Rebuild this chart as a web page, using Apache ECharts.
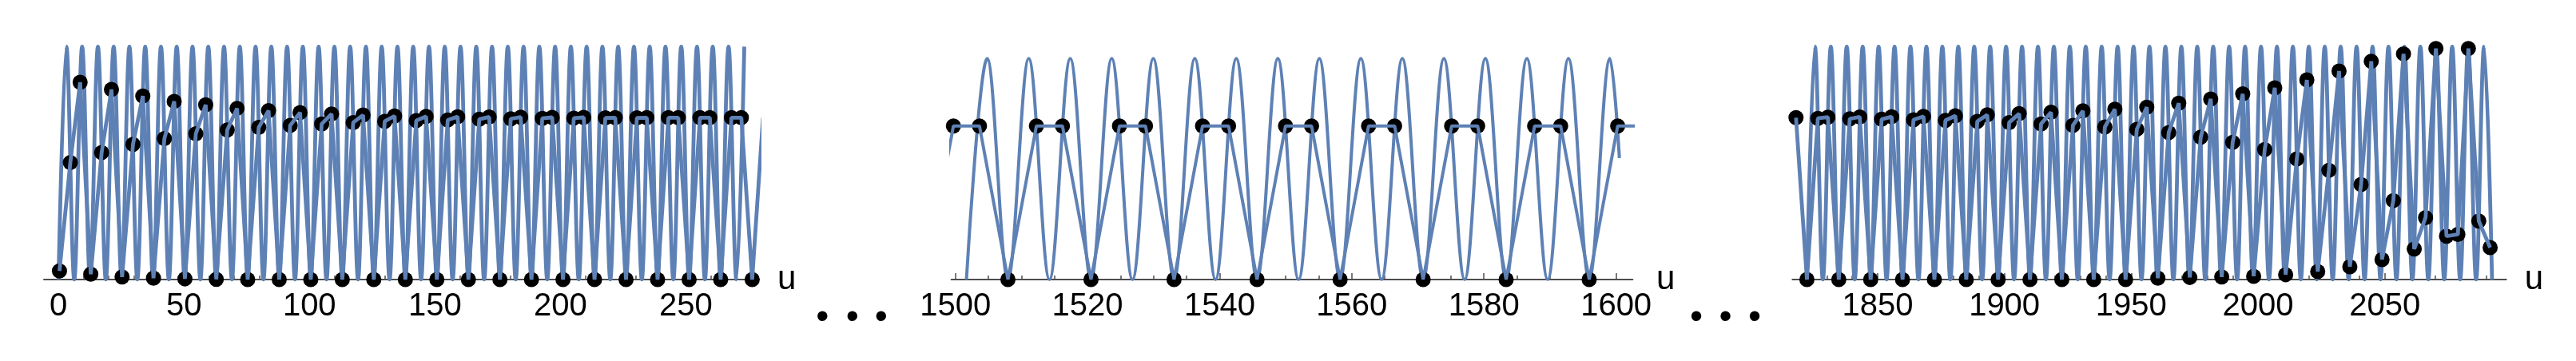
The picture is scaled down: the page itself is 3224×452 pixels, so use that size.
<!DOCTYPE html>
<html><head><meta charset="utf-8">
<script src="https://cdn.jsdelivr.net/npm/echarts@6/dist/echarts.min.js"></script>
<style>html,body{margin:0;padding:0;background:#fff}#c{width:3224px;height:452px}</style>
</head><body><div id="c"></div>
<script>
// ---- curve extrema (u positions of troughs/peaks) ----
const leftCurveU = [0,3.14,6.28,9.42,12.57,15.71,18.85,21.99,25.13,28.27,31.42,34.56,37.70,40.84,43.98,47.12,50.27,53.41,56.55,59.69,62.83,65.97,69.12,72.26,75.40,78.54,81.68,84.82,87.96,91.11,94.25,97.39,100.53,103.67,106.81,109.96,113.10,116.24,119.38,122.52,125.66,128.81,131.95,135.09,138.23,141.37,144.51,147.65,150.80,153.94,157.08,160.22,163.36,166.50,169.65,172.79,175.93,179.07,182.21,185.35,188.50,191.64,194.78,197.92,201.06,204.20,207.35,210.49,213.63,216.77,219.91,223.05,226.19,229.34,232.48,235.62,238.76,241.90,245.04,248.19,251.33,254.47,257.61,260.75,263.89,267.04,270.18,273.32];
const leftCurveV = [0,1,0,1,0,1,0,1,0,1,0,1,0,1,0,1,0,1,0,1,0,1,0,1,0,1,0,1,0,1,0,1,0,1,0,1,0,1,0,1,0,1,0,1,0,1,0,1,0,1,0,1,0,1,0,1,0,1,0,1,0,1,0,1,0,1,0,1,0,1,0,1,0,1,0,1,0,1,0,1,0,1,0,1,0,1,0,1];
const midCurveU = [1501.68,1504.82,1507.96,1511.11,1514.25,1517.39,1520.53,1523.67,1526.81,1529.96,1533.10,1536.24,1539.38,1542.52,1545.66,1548.81,1551.95,1555.09,1558.23,1561.37,1564.51,1567.65,1570.80,1573.94,1577.08,1580.22,1583.36,1586.50,1589.65,1592.79,1595.93,1599.07,1600.5];
const midCurveV = [0,1,0,1,0,1,0,1,0,1,0,1,0,1,0,1,0,1,0,1,0,1,0,1,0,1,0,1,0,1,0,1,0.55];
const rightCurveU = [1822.12,1825.27,1828.41,1831.55,1834.69,1837.83,1840.97,1844.12,1847.26,1850.40,1853.54,1856.68,1859.82,1862.96,1866.11,1869.25,1872.39,1875.53,1878.67,1881.81,1884.96,1888.10,1891.24,1894.38,1897.52,1900.66,1903.81,1906.95,1910.09,1913.23,1916.37,1919.51,1922.65,1925.80,1928.94,1932.08,1935.22,1938.36,1941.50,1944.65,1947.79,1950.93,1954.07,1957.21,1960.35,1963.50,1966.64,1969.78,1972.92,1976.06,1979.20,1982.35,1985.49,1988.63,1991.77,1994.91,1998.05,2001.19,2004.34,2007.48,2010.62,2013.76,2016.90,2020.04,2023.19,2026.33,2029.47,2032.61,2035.75,2038.89,2042.04,2045.18,2048.32,2051.46,2054.60,2057.74,2060.88,2064.03,2067.17,2070.31,2073.45,2076.59,2079.73,2082.88,2086.02,2089.16,2092.30];
const rightCurveV = [0,1,0,1,0,1,0,1,0,1,0,1,0,1,0,1,0,1,0,1,0,1,0,1,0,1,0,1,0,1,0,1,0,1,0,1,0,1,0,1,0,1,0,1,0,1,0,1,0,1,0,1,0,1,0,1,0,1,0,1,0,1,0,1,0,1,0,1,0,1,0,1,0,1,0,1,0,1,0,1,0,1,0,1,0,1,0];

// ---- sample points (black dots) ----
const leftDotU = [0.39,4.71,8.62,12.87,17.19,21.11,25.34,29.68,33.60,37.85,42.20,46.11,50.38,54.73,58.65,62.89,67.25,71.17,75.40,79.80,83.72,87.97,92.35,96.27,100.53,104.90,108.82,113.10,117.46,121.38,125.66,130.01,133.93,138.23,142.57,146.50,150.80,155.13,159.06,163.36,167.69,171.62,175.93,180.25,184.19,188.50,192.81,196.75,201.06,205.38,209.31,213.63,217.94,221.88,226.19,230.51,234.45,238.76,243.07,247.01,251.33,255.64,259.58,263.89,268.20,272.14,276.46,280.77];
const leftDotV = [0.037,0.502,0.847,0.023,0.545,0.816,0.011,0.580,0.788,0.006,0.605,0.765,0.003,0.626,0.750,0.001,0.642,0.735,0,0.653,0.725,0,0.662,0.717,0,0.668,0.711,0,0.674,0.706,0,0.679,0.702,0,0.682,0.700,0,0.685,0.699,0,0.688,0.698,0,0.690,0.697,0,0.692,0.696,0,0.693,0.696,0,0.694,0.695,0,0.694,0.695,0,0.695,0.695,0,0.695,0.695,0,0.695,0.695,0,0.695];
const midDotU = [1495.40,1499.71,1503.65,1507.96,1512.27,1516.21,1520.53,1524.84,1528.78,1533.10,1537.41,1541.35,1545.66,1549.97,1553.91,1558.23,1562.54,1566.48,1570.80,1575.11,1579.05,1583.36,1587.67,1591.61,1595.93,1600.24,1604.18];
const midDotV = [0,0.695,0.695,0,0.695,0.695,0,0.695,0.695,0,0.695,0.695,0,0.695,0.695,0,0.695,0.695,0,0.695,0.695,0,0.695,0.695,0,0.695,0.695];
const rightDotU = [1817.82,1822.12,1826.44,1830.38,1834.69,1839.01,1842.95,1847.26,1851.59,1855.52,1859.82,1864.15,1868.09,1872.39,1876.73,1880.66,1884.96,1889.31,1893.24,1897.52,1901.88,1905.81,1910.09,1914.46,1918.39,1922.65,1927.03,1930.96,1935.22,1939.62,1943.55,1947.79,1952.21,1956.14,1960.51,1964.79,1968.74,1973.11,1977.41,1981.36,1985.70,1990.02,1993.98,1998.29,2002.64,2006.61,2010.91,2015.30,2019.27,2023.56,2027.96,2031.96,2036.22,2040.65,2044.67,2048.91,2053.36,2057.39,2061.62,2066.08,2070.16,2074.34,2078.82,2082.97,2087.07,2091.55];
const rightDotV = [0.695,0,0.692,0.697,0,0.690,0.698,0,0.688,0.699,0,0.686,0.700,0,0.683,0.703,0,0.679,0.707,0,0.674,0.712,0,0.668,0.718,0,0.662,0.724,0,0.655,0.731,0,0.645,0.740,0.006,0.631,0.757,0.009,0.611,0.775,0.011,0.589,0.797,0.014,0.558,0.823,0.021,0.518,0.857,0.034,0.469,0.895,0.055,0.408,0.937,0.086,0.339,0.969,0.131,0.266,0.992,0.186,0.194,0.992,0.251,0.137];

// ---- ticks ----
const leftMajorTicks = [0,50,100,150,200,250];
const leftMinorTicks = [10,20,30,40,60,70,80,90,110,120,130,140,160,170,180,190,210,220,230,240,260,270];
const midMajorTicks = [1500,1520,1540,1560,1580,1600];
const midMinorTicks = [1505,1510,1515,1525,1530,1535,1545,1550,1555,1565,1570,1575,1585,1590,1595];
const rightMajorTicks = [1850,1900,1950,2000,2050];
const rightMinorTicks = [1820,1830,1840,1860,1870,1880,1890,1910,1920,1930,1940,1960,1970,1980,1990,2010,2020,2030,2040,2060,2070,2080,2090];
const axisName = 'u';
const ellipsisDot = '•';

// ---- panel layout / ranges ----
const panels = [
  {left:55, width:895, top:52.5, height:297.5, min:-5.8, max:279.2, ymax:1.02, lw:4.8,
   cu:leftCurveU, cv:leftCurveV, du:leftDotU, dv:leftDotV, major:leftMajorTicks, minor:leftMinorTicks},
  {left:1190.7, width:852.6, top:67.8, height:282.2, min:1499.4, max:1602.5, ymax:1.02, lw:4,
   cu:midCurveU, cv:midCurveV, du:midDotU, dv:midDotV, major:midMajorTicks, minor:midMinorTicks},
  {left:2243.3, width:893.4, top:52.5, height:297.5, min:1816.4, max:2097.9, ymax:1.02, lw:4.8,
   cu:rightCurveU, cv:rightCurveV, du:rightDotU, dv:rightDotV, major:rightMajorTicks, minor:rightMinorTicks}
];

const BLUE = '#5E81B5', AXIS = '#4d4d4d', FONT = 'Liberation Sans';
const zip = (a, b) => a.map((x, i) => [x, b[i]]);

const grid = [], xAxis = [], yAxis = [], series = [];
panels.forEach((p, i) => {
  grid.push({left:p.left, width:p.width, top:p.top, height:p.height, containLabel:false, outerBoundsMode:'none'});
  xAxis.push({
    gridIndex:i, type:'value', min:p.min, max:p.max, position:'bottom',
    axisLine:{show:true, onZero:false, lineStyle:{color:AXIS, width:2}},
    splitLine:{show:false},
    axisTick:{show:true, inside:true, length:8, customValues:p.major, lineStyle:{color:AXIS, width:1.5}},
    axisLabel:{show:true, customValues:p.major, margin:14, fontSize:40, color:'#000', fontFamily:FONT,
      formatter:(v) => String(v)},
    name:axisName, nameLocation:'end', nameGap:23,
    nameTextStyle:{fontSize:42, color:'#000', fontFamily:FONT}
  });
  xAxis.push({
    gridIndex:i, type:'value', min:p.min, max:p.max, position:'bottom',
    axisLine:{show:false}, splitLine:{show:false}, axisLabel:{show:false},
    axisTick:{show:true, inside:true, length:5, customValues:p.minor, lineStyle:{color:AXIS, width:1.5}}
  });
  yAxis.push({gridIndex:i, type:'value', min:0, max:p.ymax, show:false});
  series.push({type:'line', xAxisIndex:2*i, yAxisIndex:i, data:zip(p.cu, p.cv), smooth:0.363,
    symbol:'none', lineStyle:{color:BLUE, width:p.lw}, z:2, silent:true});
  series.push({type:'scatter', xAxisIndex:2*i, yAxisIndex:i, data:zip(p.du, p.dv), symbolSize:19,
    itemStyle:{color:'#000', opacity:1}, z:3, silent:true});
  series.push({type:'line', xAxisIndex:2*i, yAxisIndex:i, data:zip(p.du, p.dv),
    symbol:'none', lineStyle:{color:BLUE, width:p.lw}, z:4, silent:true});
});

const dotText = (x) => ({type:'text', x:x, y:398, style:{text:ellipsisDot, fontSize:46, fontFamily:FONT,
  fill:'#000', align:'center', verticalAlign:'middle'}});

const chart = echarts.init(document.getElementById('c'), null, {renderer:'canvas'});
chart.setOption({
  animation:false,
  backgroundColor:'#fff',
  grid, xAxis, yAxis, series,
  graphic:[dotText(1029.3), dotText(1066.7), dotText(1102.7), dotText(2123), dotText(2159.5), dotText(2196)]
});
</script></body></html>
